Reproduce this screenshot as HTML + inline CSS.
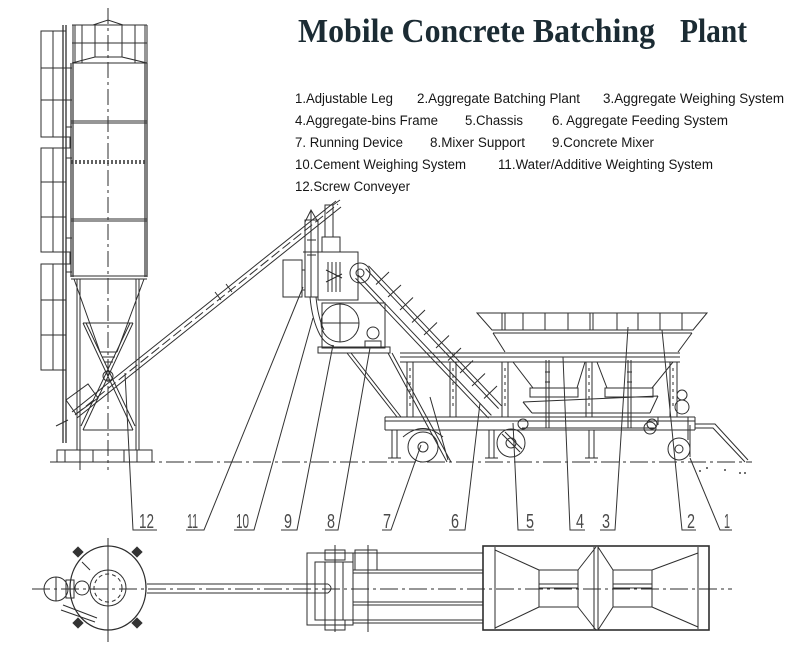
<!DOCTYPE html>
<html><head><meta charset="utf-8"><style>
html,body{margin:0;padding:0;background:#fff;}
svg{display:block;}
.lg{font-family:"Liberation Sans",Arial,sans-serif;font-size:13.5px;fill:#161616;}
.nm{font-family:"Liberation Sans",Arial,sans-serif;font-size:20px;fill:#4a4a4a;}
</style></head><body>
<svg width="800" height="660" viewBox="0 0 800 660" xmlns="http://www.w3.org/2000/svg">
<rect width="800" height="660" fill="#fff"/>

<!-- Title -->
<text x="298" y="42" font-family="'Liberation Serif',serif" font-weight="bold" font-size="34" fill="#1b2b33" textLength="357" lengthAdjust="spacingAndGlyphs">Mobile Concrete Batching</text>
<text x="680" y="42" font-family="'Liberation Serif',serif" font-weight="bold" font-size="34" fill="#1b2b33" textLength="67" lengthAdjust="spacingAndGlyphs">Plant</text>

<!-- Legend -->
<text class="lg" x="295" y="103" textLength="98" lengthAdjust="spacingAndGlyphs">1.Adjustable Leg</text>
<text class="lg" x="417" y="103" textLength="163" lengthAdjust="spacingAndGlyphs">2.Aggregate Batching Plant</text>
<text class="lg" x="603" y="103" textLength="181" lengthAdjust="spacingAndGlyphs">3.Aggregate Weighing System</text>
<text class="lg" x="295" y="125" textLength="143" lengthAdjust="spacingAndGlyphs">4.Aggregate-bins Frame</text>
<text class="lg" x="465" y="125" textLength="58" lengthAdjust="spacingAndGlyphs">5.Chassis</text>
<text class="lg" x="552" y="125" textLength="176" lengthAdjust="spacingAndGlyphs">6. Aggregate Feeding System</text>
<text class="lg" x="295" y="147" textLength="108" lengthAdjust="spacingAndGlyphs">7. Running Device</text>
<text class="lg" x="430" y="147" textLength="95" lengthAdjust="spacingAndGlyphs">8.Mixer Support</text>
<text class="lg" x="552" y="147" textLength="102" lengthAdjust="spacingAndGlyphs">9.Concrete Mixer</text>
<text class="lg" x="295" y="169" textLength="171" lengthAdjust="spacingAndGlyphs">10.Cement Weighing System</text>
<text class="lg" x="498" y="169" textLength="215" lengthAdjust="spacingAndGlyphs">11.Water/Additive Weighting System</text>
<text class="lg" x="295" y="191" textLength="115" lengthAdjust="spacingAndGlyphs">12.Screw Conveyer</text>

<g fill="none" stroke="#2e2e2e" stroke-width="1">
<!-- ===== SILO ===== -->
<rect x="41" y="31" width="25" height="106"/><rect x="41" y="148" width="25" height="104"/><rect x="41" y="264" width="25" height="106"/>
<path d="M53 31V137M53 148V252M53 264V370M41 68H66M41 100H66M41 182H66M41 217H66M41 300H66M41 335H66"/>
<path d="M63 25V443M66 25V443" stroke-width="1.3"/>
<path d="M63 137H70V148H63M63 252H70V264H63M66 68H72M66 100H72M66 127H72M66 158H72M66 238H72M66 272H72"/>
<path d="M72 25H147M72 43H147M72 63H147M73 25V63M75 25V63M82 25V63M95 25V57M122 25V57M135 25V63M145 25V63M147 25V63"/>
<path d="M93 25L108 20L123 25M72 63L95 57H122L147 63"/>
<path d="M108 8V470" stroke-dasharray="16 4 3 4"/>
<path d="M71 63V277M73 63V277M145 63V277M147 63V277" stroke-width="1.2"/>
<path d="M71 121H147M71 123H147M71 219H147M71 221H147M71 276H147M71 279H147"/>
<path d="M71 161H147M71 163H147" stroke-width="1.6" stroke-dasharray="2 2"/>
<path d="M77 279V450M80 279V450M136 279V450M139 279V450"/>
<path d="M74 279L100 352M144 279L117 352M100 352H117M102 357H115M104 362H113"/>
<path d="M83 323H133M83 430H133M83 323L133 430M86 323L135 426M133 323L83 430M130 323L81 426"/>
<circle cx="108" cy="376" r="5"/>
<rect x="57" y="450" width="95" height="12"/>
<path d="M65 450V462M93 450V462M124 450V462M137 450V462M80 440V470"/>
<!-- screw conveyor -->
<path d="M72 412L336 201M77 418L341 207"/>
<path d="M75 415L338 204" stroke-dasharray="10 4"/>
<path d="M66 400L88 384L98 398L76 414Z M215 292L221 300M226 284L232 292"/>
<path d="M68 420Q60 424 56 426"/>

<!-- ===== TOWER ===== -->
<rect x="283" y="260" width="19" height="37"/>
<path d="M302 270H305M302 290H305"/>
<rect x="305" y="220" width="13" height="77"/>
<path d="M305 222L311 210L318 222M311 210V297M307 240H316M307 255H316"/>
<rect x="325" y="205" width="8" height="32"/>
<path d="M333 205L340 200"/>
<rect x="322" y="237" width="18" height="15"/>
<path d="M303 252H358"/>
<rect x="318" y="252" width="40" height="48"/>
<path d="M328 262V292M332 262V292M336 262V292M340 262V292M326 270L342 278M326 282L342 274"/>
<path d="M310 297Q312 320 320 335Q326 345 334 346M316 297Q318 318 324 330"/>
<rect x="322" y="303" width="63" height="45"/>
<circle cx="340" cy="323" r="19"/>
<path d="M340 304V342M321 323H359"/>
<rect x="318" y="347" width="72" height="6"/>
<circle cx="373" cy="333" r="6"/><path d="M365 341H381V347H365Z"/>
<circle cx="360" cy="273" r="10"/><circle cx="360" cy="273" r="4"/>

<!-- ===== BELT CONVEYOR ===== -->
<path d="M368.5 265.8L501.5 405.8M365.6 268.6L498.6 408.6M358.4 275.4L491.4 415.4M355.5 278.2L488.5 418.2"/>
<path d="M376 284.5L389 272M388 297L401 285M400 310L413 297.5M412 322.5L425 310M424 335L437 322.5M436 348L449 335.5M448 360.5L461 348M460 373L473 360.5M472 386L485 373.5M484 398.5L497 386"/>
<path d="M347 353L397 417M351 353L401 417M388 353L447 462M392 353L451 462M430 397L448 460"/>
<!-- ===== CHASSIS / FRAME ===== -->
<path d="M400 353H680M400 357H680M400 362H680" />
<path d="M385 417H695M385 421H695M385 430H695M385 417V430M695 417V430"/>
<rect x="407" y="362" width="6" height="55"/><rect x="450" y="362" width="6" height="55"/>
<rect x="502" y="362" width="6" height="55"/><rect x="586" y="362" width="6" height="55"/><rect x="670" y="362" width="7" height="55"/>
<path d="M410 368V410M453 368V410M505 368V410M589 368V410M673 368V410" stroke-dasharray="3 4"/>
<rect x="392" y="430" width="5" height="28"/><rect x="489" y="430" width="5" height="28"/><rect x="589" y="430" width="5" height="28"/>
<path d="M388 458H401M485 458H498M585 458H598"/>
<circle cx="423" cy="447" r="15"/><circle cx="423" cy="447" r="5"/><path d="M403 437Q423 420 443 437"/>
<circle cx="511" cy="443" r="14"/><circle cx="511" cy="443" r="5"/><path d="M502 434L520 452M505 432L522 449"/>
<circle cx="679" cy="449" r="11"/><circle cx="679" cy="449" r="4"/><path d="M690 425V457"/>
<path d="M695 424H715L748 460M695 428H713L745 462"/>
<circle cx="650" cy="428" r="6"/><circle cx="682" cy="407" r="7"/><circle cx="682" cy="395" r="5"/>
<path d="M658 417V425M688 417V440"/>
<!-- ===== HOPPER ===== -->
<path d="M477 313H707L693 330H492Z M493 333H692M493 333L505 352M692 333L678 352"/>
<path d="M502 313V330M505 313V330M523 313V330M545 313V330M568 313V330M590 313V330M593 313V330M617 313V330M638 313V330M660 313V330M682 313V330"/>
<path d="M513 362L533 388M585 362L577 388M597 362L607 388M673 362L652 388"/>
<rect x="530" y="388" width="48" height="9"/><rect x="605" y="388" width="48" height="9"/>
<path d="M523 402L658 396M532 413H650M523 402L532 413M658 396L650 413"/>
<path d="M522 421H655M522 428H655"/>
<circle cx="523" cy="424" r="5"/><circle cx="652" cy="424" r="5"/>
<path d="M546 360V428M549 360V428M628 360V428M631 360V428M545 372H550M545 382H550M627 372H632M627 382H632"/>
<path d="M50 462H752" stroke-dasharray="18 4 3 4"/>
</g>
<g fill="#444">
<circle cx="700" cy="471" r="1"/><circle cx="707" cy="468" r="1"/><circle cx="725" cy="470" r="1"/><circle cx="740" cy="473" r="1"/><circle cx="745" cy="473" r="1"/>
</g>

<!-- ===== LEADERS & NUMBERS ===== -->
<g fill="none" stroke="#333" stroke-width="1">
<path d="M125 373L133 530H157"/>
<path d="M186 530H204L303 287"/>
<path d="M234 530H254L313 318"/>
<path d="M281 530H297L333 345"/>
<path d="M325 530H338L370 348"/>
<path d="M382 530H391L421 445"/>
<path d="M449 530H465L480 403"/>
<path d="M513 423L518 530H534"/>
<path d="M563 357L570 530H585"/>
<path d="M600 530H615L628 327"/>
<path d="M662 330L682 530H696"/>
<path d="M690 458L720 530H732"/>
</g>
<text class="nm" x="139" y="528" textLength="15" lengthAdjust="spacingAndGlyphs">12</text>
<text class="nm" x="187" y="528" textLength="11" lengthAdjust="spacingAndGlyphs">11</text>
<text class="nm" x="236" y="528" textLength="13" lengthAdjust="spacingAndGlyphs">10</text>
<text class="nm" x="284" y="528" textLength="8" lengthAdjust="spacingAndGlyphs">9</text>
<text class="nm" x="327" y="528" textLength="8" lengthAdjust="spacingAndGlyphs">8</text>
<text class="nm" x="383" y="528" textLength="8" lengthAdjust="spacingAndGlyphs">7</text>
<text class="nm" x="451" y="528" textLength="8" lengthAdjust="spacingAndGlyphs">6</text>
<text class="nm" x="526" y="528" textLength="8" lengthAdjust="spacingAndGlyphs">5</text>
<text class="nm" x="576" y="528" textLength="8" lengthAdjust="spacingAndGlyphs">4</text>
<text class="nm" x="602" y="528" textLength="8" lengthAdjust="spacingAndGlyphs">3</text>
<text class="nm" x="687" y="528" textLength="8" lengthAdjust="spacingAndGlyphs">2</text>
<text class="nm" x="724" y="528" textLength="6" lengthAdjust="spacingAndGlyphs">1</text>

<!-- ===== PLAN VIEW ===== -->
<g fill="none" stroke="#2e2e2e" stroke-width="1">
<path d="M32 589H732" stroke-dasharray="18 4 3 4"/>
<path d="M108 538V642"/>
<ellipse cx="108" cy="588" rx="38" ry="42" stroke-width="1.3"/>
<circle cx="108" cy="588" r="18"/>
<circle cx="108" cy="588" r="14" stroke-dasharray="4 3"/>
<circle cx="56" cy="589" r="12"/>
<path d="M56 577V601"/>
<rect x="66" y="580" width="8" height="18"/>
<circle cx="82" cy="588" r="7"/>
<path d="M82 562L90 570"/>
<path d="M63 605L97 618M61 610L95 622"/>
<path d="M147 584H328M147 593H328M328 584Q334 588 328 593"/>
<rect x="307" y="553" width="46" height="72"/>
<rect x="315" y="562" width="38" height="58"/>
<path d="M335 545V632M325 562V620M343 562V620"/>
<path d="M325 550H345V560H325ZM325 620H345V630H325Z"/>
<path d="M353 553H483M353 570H483M353 573H483M353 602H483M353 605H483M353 620H483M353 623H483"/>
<rect x="355" y="550" width="22" height="20"/>
<path d="M368 545V632"/>
<rect x="483" y="546" width="226" height="84" stroke-width="1.6"/>
<path d="M495 547V629M698 547V629M594 547V629M598 547V629" />
<path d="M495 550L539 570M495 628L539 607M578 570L596 547M578 607L596 630"/>
<rect x="539" y="570" width="39" height="37"/>
<path d="M539 584H578M539 588H578"/>
<path d="M598 547L613 570M598 630L613 607M652 570L698 553M652 607L698 627"/>
<rect x="613" y="570" width="39" height="37"/>
<path d="M613 584H652M613 588H652"/>
</g>
<g fill="#333">
<rect x="74" y="548" width="8" height="8" transform="rotate(45 78 552)"/>
<rect x="133" y="548" width="8" height="8" transform="rotate(45 137 552)"/>
<rect x="74" y="619" width="8" height="8" transform="rotate(45 78 623)"/>
<rect x="133" y="619" width="8" height="8" transform="rotate(45 137 623)"/>
</g>
</svg>
</body></html>
